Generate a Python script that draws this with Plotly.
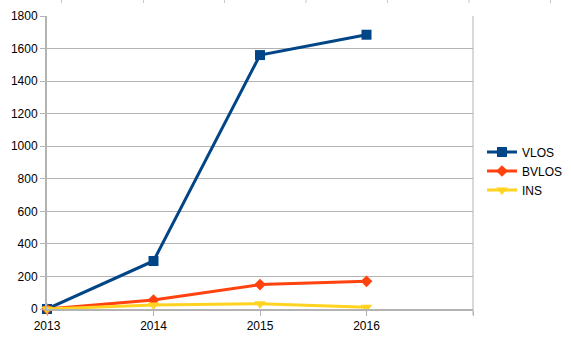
import plotly.graph_objects as go

# Yearly counts per operation category
years = [2013, 2014, 2015, 2016]
vlos = [0, 295, 1560, 1685]
bvlos = [0, 55, 150, 170]
ins = [0, 25, 32, 10]

series = [
    ("VLOS", vlos, "#004586", "square", 10),
    ("BVLOS", bvlos, "#ff420e", "diamond", 9),
    ("INS", ins, "#ffd320", "triangle-down", 10),
]

W, H = 571, 339
L, R, T, B = 47, 98, 16, 30
grid = "#b3b3b3"

fig = go.Figure()
for name, vals, color, sym, size in series:
    fig.add_trace(go.Scatter(
        x=years, y=vals, name=name, mode="lines+markers",
        line=dict(color=color, width=3),
        marker=dict(symbol=sym, size=size, color=color),
        cliponaxis=False,
    ))

plot_w = W - L - R
plot_h = H - T - B

shapes = [
    # right frame edge, extended down like a tick
    dict(type="line", xref="paper", yref="paper", x0=1, x1=1,
         y0=-6 / plot_h, y1=1, line=dict(color=grid, width=1)),
]
# small marks along the very top edge
for px in [61.5, 143.5, 224.5, 306, 387.5, 469, 550.5]:
    xp = (px - L) / plot_w
    shapes.append(dict(type="line", xref="paper", yref="paper",
                       x0=xp, x1=xp, y0=(plot_h + T - 3) / plot_h,
                       y1=(plot_h + T) / plot_h,
                       line=dict(color="#c8c8c8", width=1)))

fig.update_layout(
    width=W, height=H,
    margin=dict(l=L, r=R, t=T, b=B, autoexpand=False),
    paper_bgcolor="white", plot_bgcolor="white",
    font=dict(family="Liberation Sans", size=12, color="#000000"),
    showlegend=True,
    legend=dict(x=(482 - L) / plot_w, xanchor="left",
                y=(H - B - 171) / plot_h, yanchor="middle",
                font=dict(size=12), itemwidth=30,
                tracegroupgap=0, bgcolor="rgba(0,0,0,0)"),
    shapes=shapes,
    xaxis=dict(
        range=[2013, 2017], automargin=False,
        tickvals=[2013, 2014, 2015, 2016, 2017],
        ticktext=["2013", "2014", "2015", "2016", ""],
        showgrid=False, zeroline=False,
        showline=True, linecolor=grid, linewidth=2,
        ticks="outside", ticklen=5, tickcolor=grid, tickwidth=1,
    ),
    yaxis=dict(
        range=[0, 1800], dtick=200, automargin=False,
        showgrid=True, gridcolor=grid, gridwidth=1,
        zeroline=False,
        showline=True, linecolor=grid, linewidth=2,
        ticks="outside", ticklen=5, tickcolor=grid, tickwidth=1,
    ),
)

fig.write_html("out.html")
